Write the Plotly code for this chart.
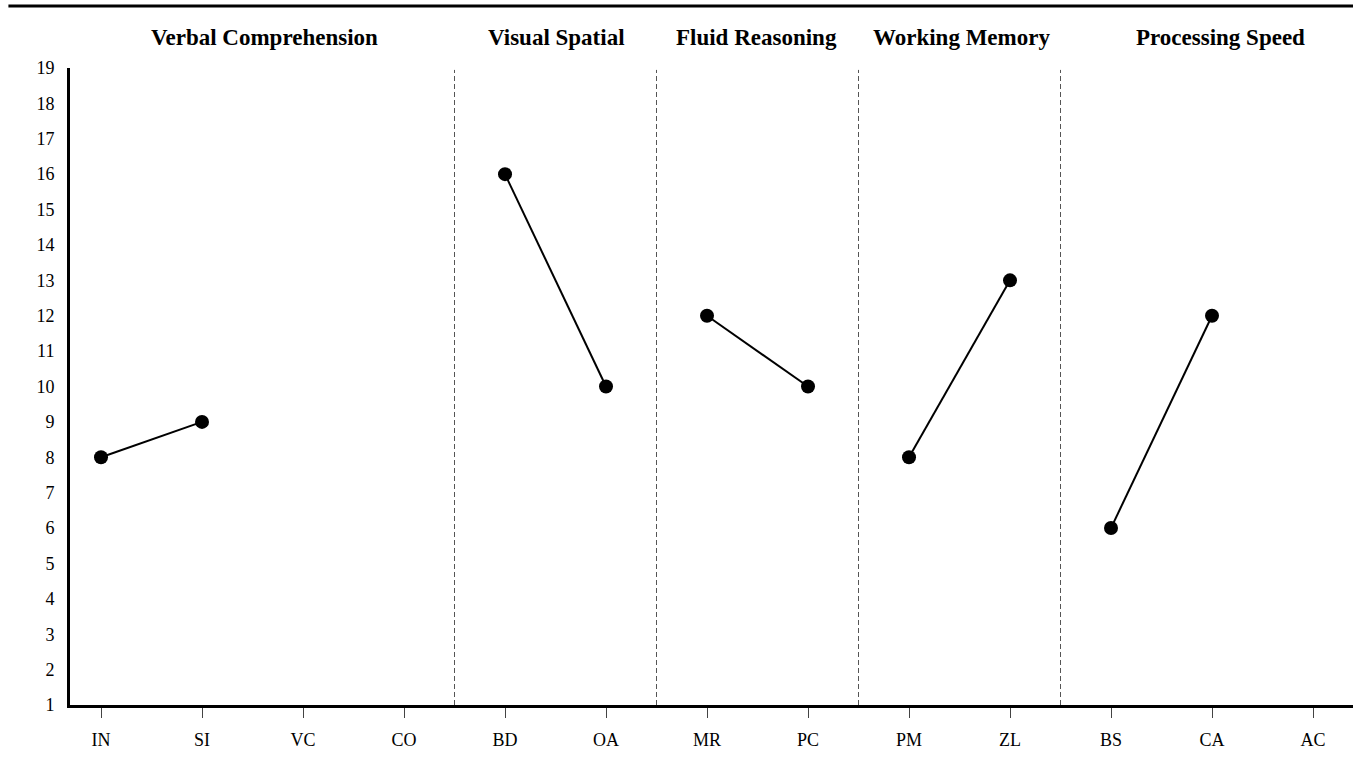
import plotly.graph_objects as go

subtests = ["IN", "SI", "VC", "CO", "BD", "OA", "MR", "PC", "PM", "ZL", "BS", "CA", "AC"]

# scaled scores per index, None where the subtest was not given
vc_scores = [8, 9, None, None]
vs_scores = [16, 10]
fr_scores = [12, 10]
wm_scores = [8, 13]
ps_scores = [6, 12, None]

groups = [
    ("Verbal Comprehension", subtests[0:4], vc_scores, 1.62),
    ("Visual Spatial", subtests[4:6], vs_scores, 4.51),
    ("Fluid Reasoning", subtests[6:8], fr_scores, 6.49),
    ("Working Memory", subtests[8:10], wm_scores, 8.52),
    ("Processing Speed", subtests[10:13], ps_scores, 11.08),
]
y_ticks = list(range(1, 20))

fig = go.Figure()
for name, cats, scores, label_x in groups:
    fig.add_trace(go.Scatter(
        x=cats, y=scores, mode="lines+markers",
        line=dict(color="black", width=2),
        marker=dict(color="black", size=14),
        connectgaps=False, showlegend=False, name=name))
    fig.add_annotation(x=label_x, y=1.048, xref="x", yref="paper",
                       yanchor="middle", xanchor="center",
                       text="<b>" + name + "</b>", showarrow=False,
                       font=dict(family="Liberation Serif", size=23, color="black"))

# dashed dividers between indexes
for xd in [3.5, 5.5, 7.5, 9.5]:
    fig.add_shape(type="line", xref="x", yref="paper", x0=xd, x1=xd, y0=0, y1=0.997,
                  line=dict(color="#555555", width=1, dash="5px,3px"))

# thick rule along the top
fig.add_shape(type="line", xref="paper", yref="paper", x0=-0.048, x1=1.0, y0=1.0975, y1=1.0975,
              line=dict(color="black", width=3))

fig.update_xaxes(
    type="category", categoryorder="array", categoryarray=subtests,
    range=[-0.307, 12.396], showgrid=False, zeroline=False,
    showline=True, linecolor="black", linewidth=3,
    ticks="outside", ticklen=10, tickcolor="#444444", tickwidth=1,
    ticklabelstandoff=6,
    tickfont=dict(family="Liberation Serif", size=18, color="black"))
fig.update_yaxes(
    range=[1, 19], tickvals=y_ticks, showgrid=False, zeroline=False,
    showline=True, linecolor="black", linewidth=3, ticks="",
    ticklabelstandoff=9,
    tickfont=dict(family="Liberation Serif", size=18, color="black"))

fig.update_layout(
    width=1353, height=759,
    margin=dict(l=70, r=0, t=68, b=54),
    plot_bgcolor="white", paper_bgcolor="white",
    font=dict(family="Liberation Serif"))

fig.write_html("out.html", config={"displayModeBar": False},
               post_script="document.body.style.margin='0';document.body.style.overflow='hidden';")
